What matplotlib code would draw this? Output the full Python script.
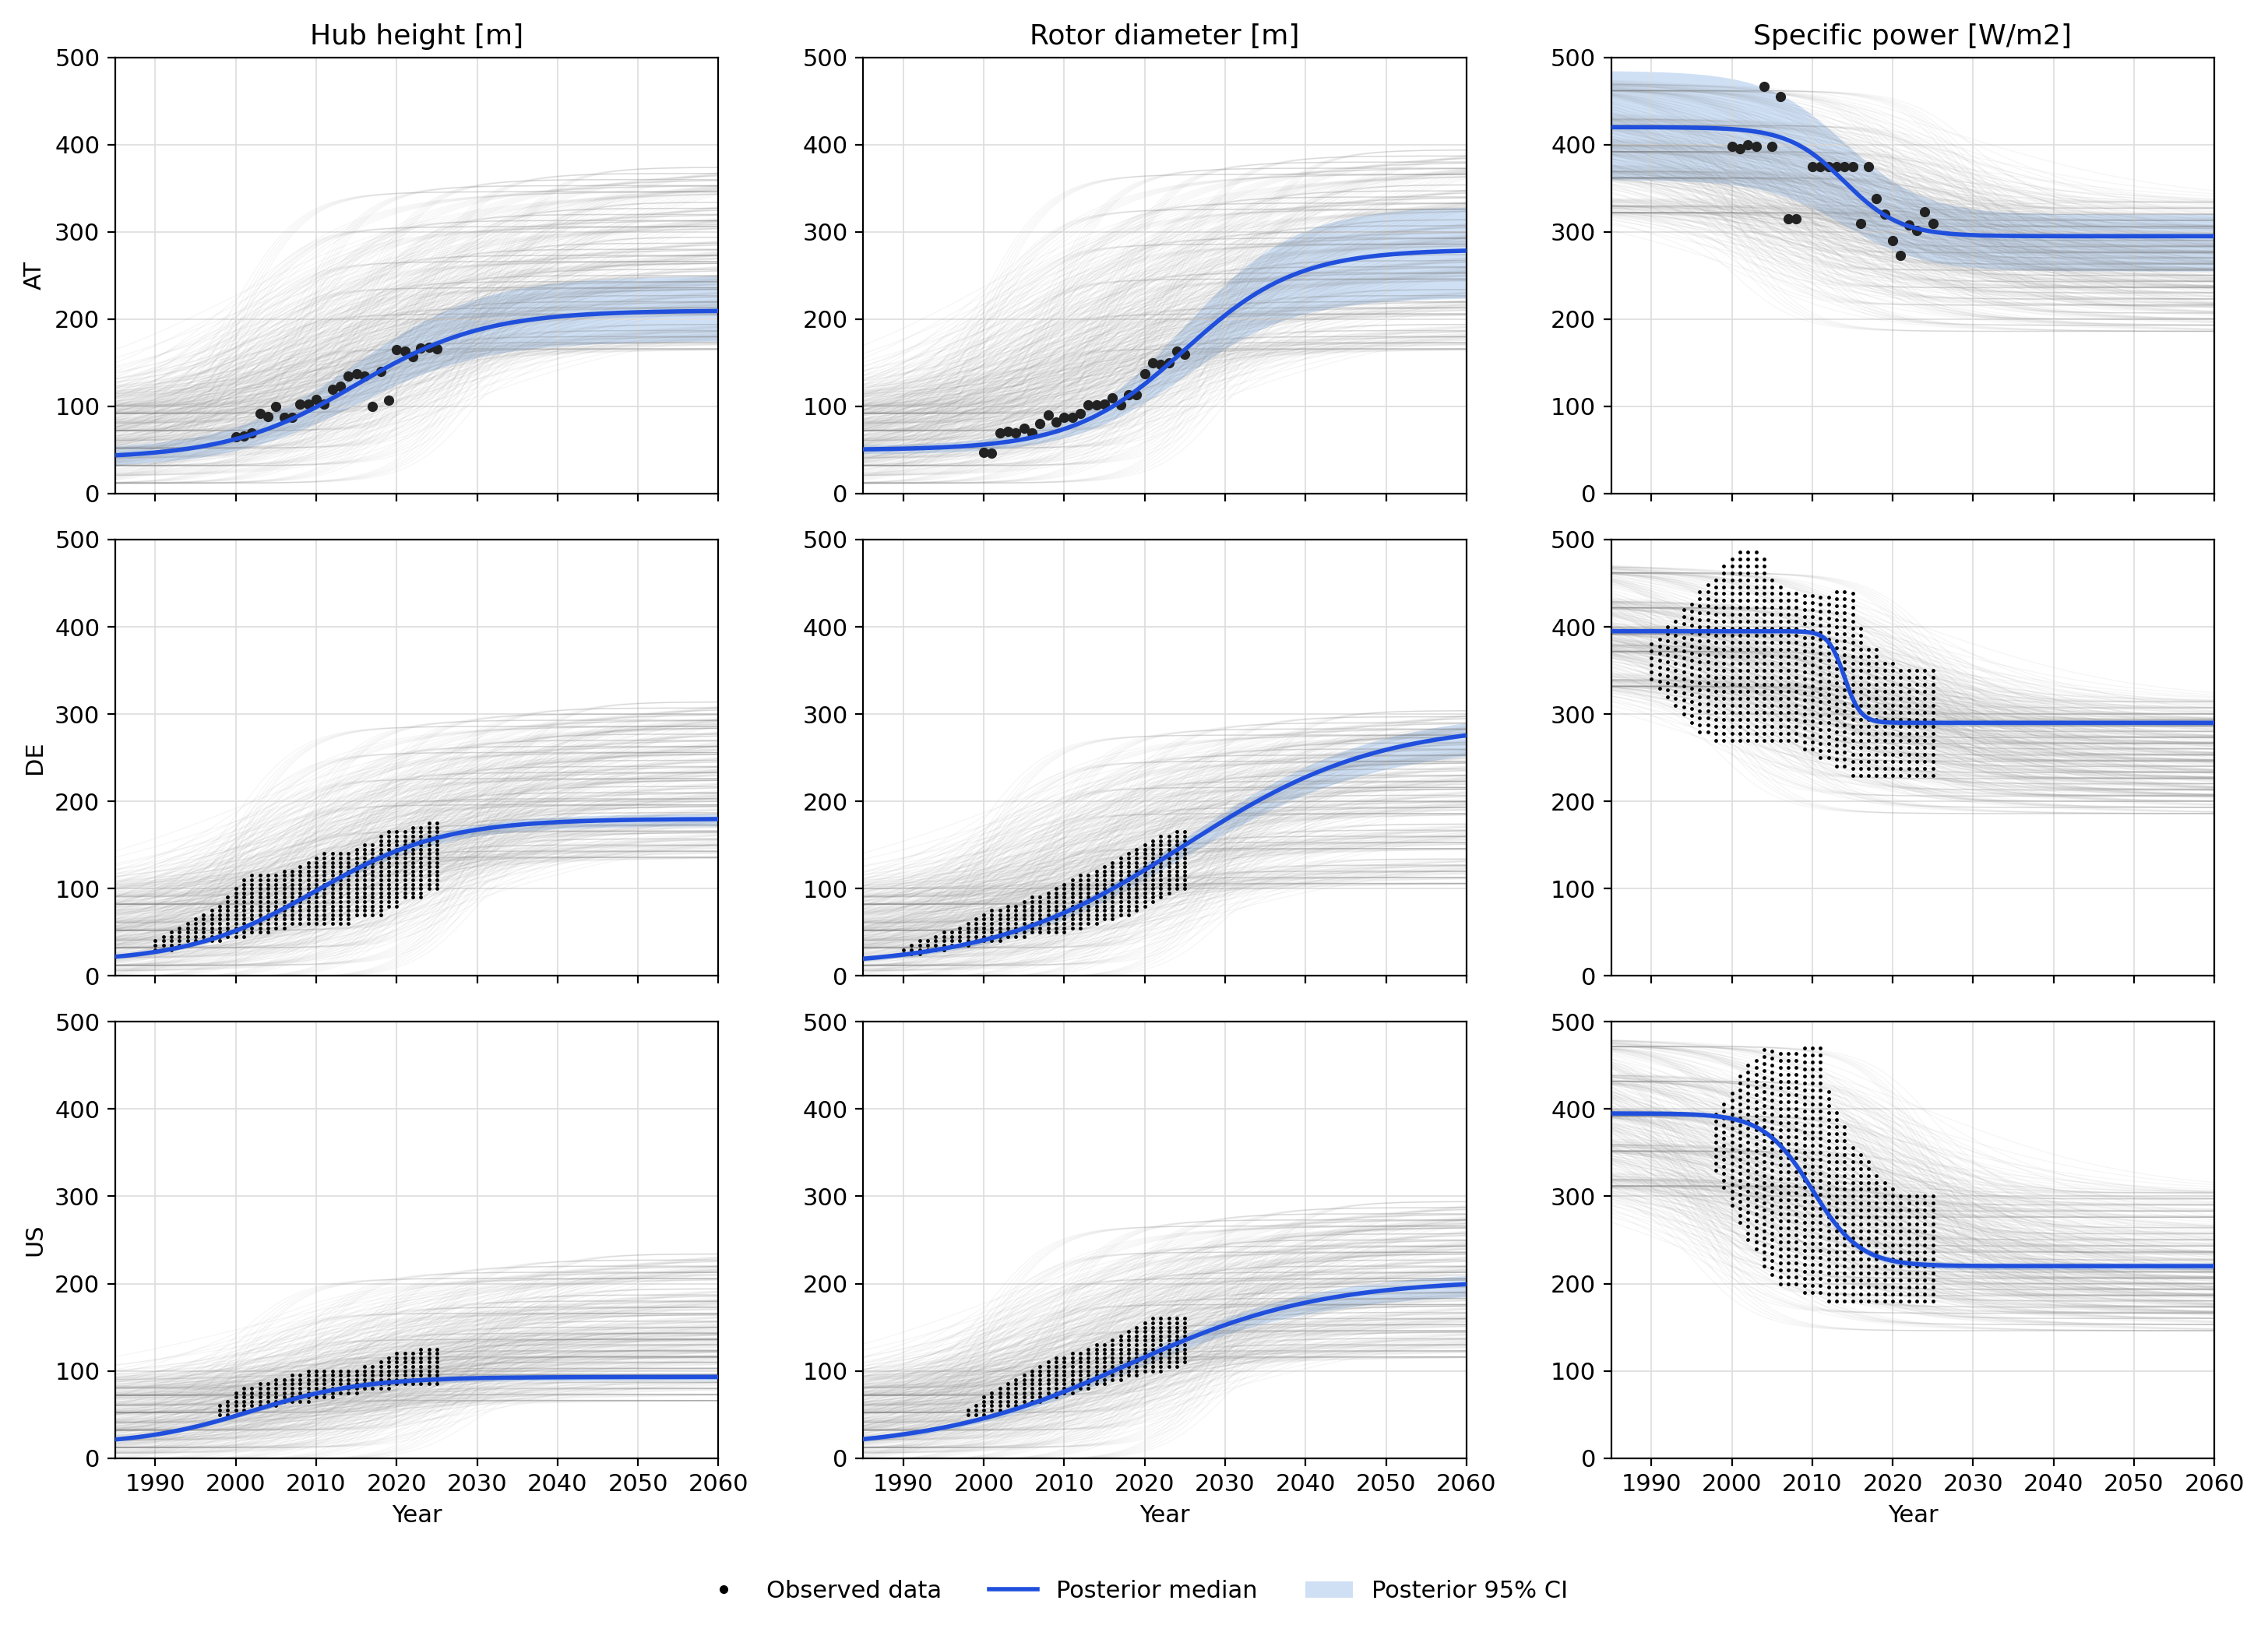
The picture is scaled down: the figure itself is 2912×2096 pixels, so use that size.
import itertools
import numpy as np
import matplotlib.pyplot as plt

countries = ["AT", "DE", "US"]
variables = ["Hub height [m]", "Rotor diameter [m]", "Specific power [W/m2]"]

# median logistic params per (country, variable): start, end, midpoint year, scale
median_params = {
    ("AT", 0): (40, 210, 2015, 8), ("AT", 1): (50, 280, 2025, 7), ("AT", 2): (420, 295, 2014, 3.5),
    ("DE", 0): (15, 180, 2010, 8), ("DE", 1): (10, 290, 2025, 12), ("DE", 2): (395, 290, 2014, 1),
    ("US", 0): (15, 93, 2002, 7), ("US", 1): (10, 205, 2018, 12), ("US", 2): (395, 220, 2010, 3),
}
# 95% CI: (start_low, end_low, start_high, end_high, scale)
ci_params = {
    ("AT", 0): (30, 175, 50, 250, 8), ("AT", 1): (45, 225, 55, 330, 7), ("AT", 2): (360, 255, 485, 320, 5),
    ("DE", 0): (13, 172, 17, 186, 8), ("DE", 1): (8, 265, 12, 305, 12), ("DE", 2): (393, 287, 397, 293, 1),
    ("US", 0): (13, 89, 17, 97, 7), ("US", 1): (8, 190, 12, 215, 12), ("US", 2): (392, 216, 398, 224, 3),
}
# posterior draws: start values, end values, midpoint years
draw_starts = {
    ("AT", 0): [20, 40, 60, 80, 100], ("AT", 1): [20, 40, 60, 80, 100], ("AT", 2): [330, 370, 400, 430, 470],
    ("DE", 0): [5, 20, 40, 60, 90], ("DE", 1): [5, 20, 40, 60, 90], ("DE", 2): [340, 380, 400, 430, 470],
    ("US", 0): [5, 20, 40, 60, 80], ("US", 1): [5, 20, 40, 60, 80], ("US", 2): [320, 360, 400, 440, 480],
}
draw_ends = {
    ("AT", 0): [180, 220, 250, 280, 320, 360], ("AT", 1): [180, 220, 260, 300, 340, 380],
    ("AT", 2): [200, 230, 250, 270, 290, 320],
    ("DE", 0): [150, 180, 210, 240, 270, 300], ("DE", 1): [120, 160, 200, 230, 260, 290],
    ("DE", 2): [200, 220, 240, 260, 280, 300],
    ("US", 0): [80, 110, 130, 150, 180, 220], ("US", 1): [130, 160, 190, 220, 250, 280],
    ("US", 2): [160, 180, 200, 220, 250, 290],
}
draw_mids = {
    ("AT", 0): [2000, 2008, 2015, 2022, 2030], ("AT", 1): [2000, 2008, 2015, 2022, 2030],
    ("AT", 2): [2000, 2008, 2015, 2022, 2030],
    ("DE", 0): [2000, 2008, 2015, 2022, 2030], ("DE", 1): [2000, 2008, 2015, 2022, 2030],
    ("DE", 2): [1998, 2005, 2012, 2018, 2025],
    ("US", 0): [2000, 2008, 2015, 2022, 2030], ("US", 1): [2000, 2008, 2015, 2022, 2030],
    ("US", 2): [1995, 2003, 2010, 2018, 2025],
}
draw_scales = [4, 8, 13]
# small shifts so the draws do not stack on identical values
end_shifts = [-14, -7, 0, 7, 14]
start_shifts = [-8, 0, 8]

# Austria observed
at_years = [2000, 2001, 2002, 2003, 2004, 2005, 2006, 2007, 2008, 2009, 2010, 2011, 2012,
            2013, 2014, 2015, 2016, 2017, 2018, 2019, 2020, 2021, 2022, 2023, 2024, 2025]
at_hub = [65, 66, 70, 92, 88, 100, 87, 87, 103, 103, 108, 103, 120, 123, 135, 137, 135,
          100, 140, 107, 165, 163, 157, 167, 168, 166]
at_rotor = [47, 46, 70, 71, 70, 75, 70, 80, 90, 82, 87, 87, 92, 102, 102, 103, 110, 102,
            113, 113, 137, 150, 148, 150, 163, 160]
at_sp_years = [2000, 2001, 2002, 2003, 2004, 2005, 2006, 2007, 2008, 2010, 2011, 2012, 2013,
               2014, 2015, 2016, 2017, 2018, 2019, 2020, 2021, 2022, 2023, 2024, 2025]
at_sp = [398, 395, 400, 398, 467, 398, 455, 315, 315, 375, 375, 375, 375, 375, 375, 310,
         375, 338, 320, 290, 273, 308, 302, 323, 310]

# dense observed data ranges (per year: low, high, grid step)
de_years = list(range(1990, 2026))
de_hub_lo = [30, 30, 30, 35, 35, 40, 40, 40, 40, 45, 45, 45, 50, 50, 50, 55, 55, 60, 60, 60,
             60, 60, 60, 60, 60, 70, 70, 70, 70, 80, 80, 90, 90, 90, 100, 100]
de_hub_hi = [40, 45, 50, 55, 60, 65, 70, 75, 80, 90, 100, 110, 115, 115, 115, 115, 120, 120,
             125, 130, 135, 140, 140, 140, 140, 145, 150, 150, 160, 165, 165, 165, 170, 170, 175, 175]
de_rot_lo = [25, 25, 25, 30, 30, 30, 35, 35, 35, 40, 40, 40, 40, 45, 45, 45, 50, 50, 50, 50,
             50, 55, 55, 60, 60, 65, 65, 70, 70, 75, 80, 85, 90, 95, 100, 100]
de_rot_hi = [30, 35, 40, 40, 45, 50, 50, 55, 60, 65, 70, 75, 75, 80, 80, 85, 90, 90, 95, 100,
             105, 110, 115, 115, 120, 125, 130, 135, 140, 145, 150, 155, 160, 160, 165, 165]
de_sp_lo = [340, 330, 320, 310, 300, 290, 280, 280, 270, 270, 270, 270, 270, 270, 270, 270,
            270, 270, 270, 260, 260, 250, 250, 240, 240, 230, 230, 230, 230, 230, 230, 230, 230,
            230, 230, 230]
de_sp_hi = [380, 390, 400, 410, 420, 430, 440, 450, 460, 470, 480, 490, 490, 490, 480, 460,
            450, 440, 440, 440, 440, 440, 440, 440, 440, 440, 400, 380, 380, 360, 360, 350, 350,
            350, 350, 350]
us_years = list(range(1998, 2026))
us_hub_lo = [50, 50, 55, 55, 60, 60, 60, 60, 65, 65, 65, 65, 70, 70, 70, 75, 75, 75, 80, 80,
             80, 80, 85, 85, 85, 85, 85, 85]
us_hub_hi = [60, 65, 75, 80, 80, 85, 85, 90, 90, 95, 95, 100, 100, 100, 100, 100, 100, 100,
             105, 105, 110, 115, 120, 120, 120, 125, 125, 125]
us_rot_lo = [50, 50, 50, 55, 55, 60, 60, 60, 65, 65, 70, 70, 75, 75, 80, 80, 85, 85, 90, 90,
             95, 95, 100, 100, 100, 105, 105, 110]
us_rot_hi = [55, 60, 70, 75, 80, 85, 90, 95, 100, 105, 110, 115, 115, 120, 120, 125, 130, 130,
             135, 140, 145, 150, 155, 160, 160, 160, 160, 160]
us_sp_lo = [330, 310, 290, 270, 250, 240, 220, 210, 200, 200, 200, 190, 190, 190, 180, 180,
            180, 180, 180, 180, 180, 180, 180, 180, 180, 180, 180, 180]
us_sp_hi = [400, 410, 420, 440, 450, 460, 470, 470, 470, 470, 470, 470, 470, 470, 420, 400,
            380, 360, 350, 340, 330, 320, 310, 300, 300, 300, 300, 300]

dense = {
    ("DE", 0): (de_years, de_hub_lo, de_hub_hi, 5),
    ("DE", 1): (de_years, de_rot_lo, de_rot_hi, 5),
    ("DE", 2): (de_years, de_sp_lo, de_sp_hi, 8),
    ("US", 0): (us_years, us_hub_lo, us_hub_hi, 5),
    ("US", 1): (us_years, us_rot_lo, us_rot_hi, 5),
    ("US", 2): (us_years, us_sp_lo, us_sp_hi, 8),
}


def logistic(t, a, b, m, s):
    return a + (b - a) / (1 + np.exp(-(t - m) / s))


t = np.linspace(1985, 2060, 300)
fig, axes = plt.subplots(3, 3, figsize=(14.56, 10.48), dpi=200, sharex=True)

for i, c in enumerate(countries):
    for j in range(3):
        ax = axes[i, j]
        key = (c, j)
        a, b, m, s = median_params[key]
        for (a2, (k, m2), (q, s2)) in itertools.product(
                draw_starts[key], enumerate(draw_mids[key]), enumerate(draw_scales)):
            for b2 in draw_ends[key]:
                ax.plot(t, logistic(t, a2 + start_shifts[q], b2 + end_shifts[k], m2, s2),
                        color="#808080", lw=0.5, alpha=0.07)
        la, lb, ua, ub, cs = ci_params[key]
        ax.fill_between(t, logistic(t, la, lb, m, cs), logistic(t, ua, ub, m, cs),
                        color="#a9c8ee", alpha=0.55, lw=0)
        if c == "AT":
            if j == 0:
                ax.scatter(at_years, at_hub, s=14, color="#222222", zorder=4)
            elif j == 1:
                ax.scatter(at_years, at_rotor, s=14, color="#222222", zorder=4)
            else:
                ax.scatter(at_sp_years, at_sp, s=14, color="#222222", zorder=4)
        else:
            yrs, lo, hi, step = dense[key]
            xs, ys = [], []
            for y, l, h in zip(yrs, lo, hi):
                for v in np.arange(l, h + 0.1, step):
                    xs.append(y)
                    ys.append(v)
            ax.scatter(xs, ys, s=3, color="black", zorder=4, lw=0)
        ax.plot(t, logistic(t, a, b, m, s), color="#1f4fdc", lw=2, zorder=5)
        ax.set_xlim(1985, 2060)
        ax.set_ylim(0, 500)
        ax.set_xticks(range(1990, 2061, 10))
        ax.set_yticks(range(0, 501, 100))
        ax.grid(True, color="#dddddd", lw=0.6)
        if i == 0:
            ax.set_title(variables[j], fontsize=13)
        if j == 0:
            ax.set_ylabel(c, fontsize=11)
        if i == 2:
            ax.set_xlabel("Year", fontsize=11)
        ax.tick_params(labelsize=11)

handles = [
    plt.Line2D([], [], marker="o", ls="", color="black", markersize=3),
    plt.Line2D([], [], color="#1f4fdc", lw=2),
    plt.Rectangle((0, 0), 1, 1, color="#a9c8ee", alpha=0.55, lw=0),
]
fig.legend(handles, ["Observed data", "Posterior median", "Posterior 95% CI"],
           loc="lower center", ncol=3, frameon=False, fontsize=11, bbox_to_anchor=(0.5, 0.005))
fig.tight_layout(rect=(0, 0.05, 1, 1), w_pad=2.5)
fig.savefig("out.png", dpi=200)
